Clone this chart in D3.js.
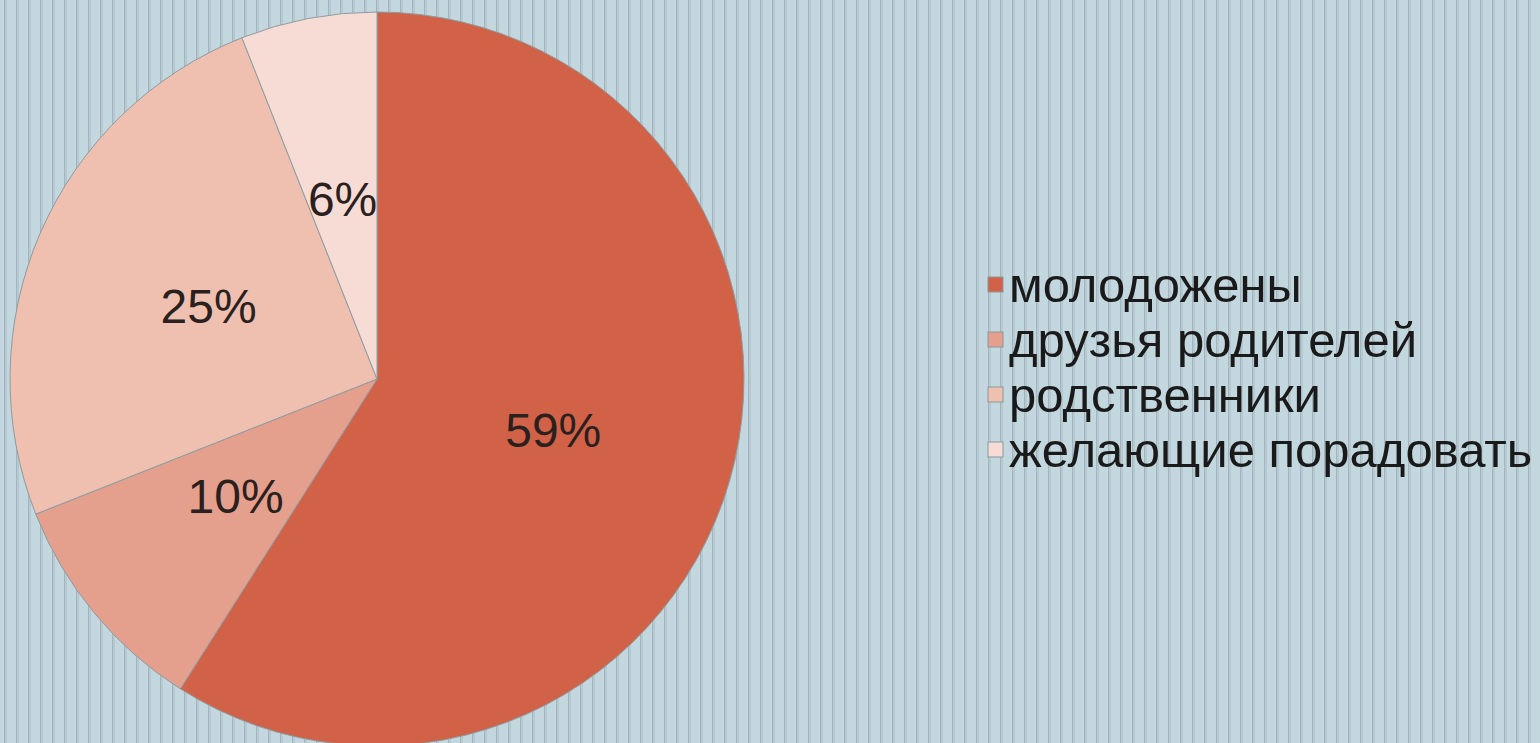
<!DOCTYPE html>
<html><head><meta charset="utf-8">
<script src="https://cdn.jsdelivr.net/npm/d3@7"></script>
<style>html,body{margin:0;padding:0;background:#c3d7df;overflow:hidden}</style>
</head><body>
<svg id="c" width="1540" height="743"></svg>
<script>
const categories = ["молодожены", "друзья родителей", "родственники", "желающие порадовать"];
const values = [59, 10, 25, 6];
const labels = ["59%", "10%", "25%", "6%"];
const colors = ["#d26247", "#e59f8d", "#efbfb0", "#f7dcd6"];

const svg = d3.select("#c");
const defs = svg.append("defs");
const pat = defs.append("pattern").attr("id","stripes").attr("patternUnits","userSpaceOnUse")
  .attr("width",12).attr("height",10);
pat.append("rect").attr("width",12).attr("height",10).attr("fill","#c3d7df");
pat.append("rect").attr("x",4).attr("width",1).attr("height",10).attr("fill","#a3b6bf");
pat.append("rect").attr("x",5).attr("width",2).attr("height",10).attr("fill","#b6c9d1");
svg.append("rect").attr("width",1540).attr("height",743).attr("fill","url(#stripes)");

const cx = 377, cy = 379, r = 367;
const pie = d3.pie().sort(null).value(d => d);
const arcs = pie(values);
const arc = d3.arc().innerRadius(0).outerRadius(r);
const labelArc = d3.arc().innerRadius(r*0.5).outerRadius(r*0.5);
const g = svg.append("g").attr("transform",`translate(${cx},${cy})`);
g.selectAll("path").data(arcs).join("path")
  .attr("d", arc).attr("fill",(d,i)=>colors[i])
  .attr("stroke","#8d9ba0").attr("stroke-width",1);
g.selectAll("text").data(arcs).join("text")
  .attr("transform", d => { const c = labelArc.centroid(d); return `translate(${c[0]},${c[1]})`; })
  .attr("text-anchor","middle").attr("dy","0.36em")
  .attr("font-family","Liberation Sans, Arial, sans-serif").attr("font-size",48)
  .attr("fill","#2a211f").text((d,i)=>labels[i]);

const y = d3.scalePoint().domain(categories).range([302, 467]);
const lg = svg.append("g");
const items = lg.selectAll("g").data(categories).join("g")
  .attr("transform", d => `translate(0,${y(d)})`);
items.append("rect").attr("x",988).attr("y",-25).attr("width",15).attr("height",15)
  .attr("fill",(d,i)=>colors[i]).attr("stroke","#8a979c").attr("stroke-width",1);
items.append("text").attr("x",1009).attr("y",0)
  .attr("font-family","Liberation Sans, Arial, sans-serif").attr("font-size",49)
  .attr("fill","#1a1a1a").text(d=>d);
</script>
</body></html>
